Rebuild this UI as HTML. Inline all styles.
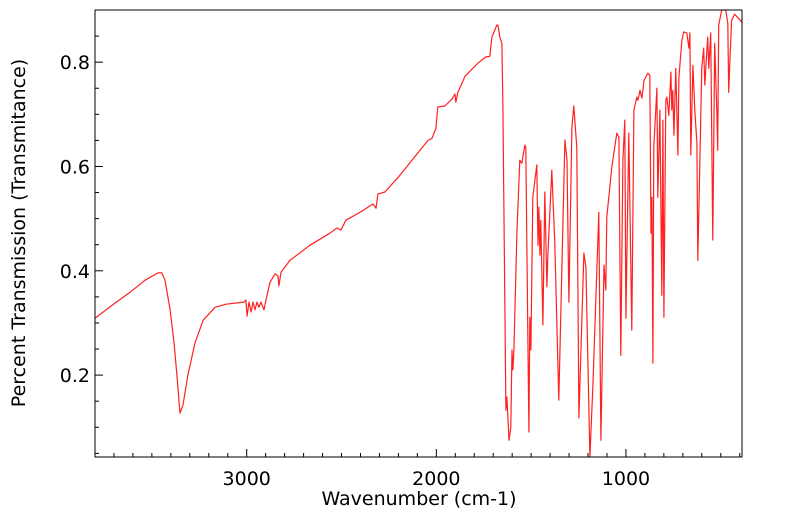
<!DOCTYPE html>
<html><head><meta charset="utf-8"><style>
body{margin:0;background:#fff;}
svg{display:block;font-family:"DejaVu Sans","Liberation Sans",sans-serif;}
</style></head><body>
<svg id="chart" width="799" height="516" viewBox="0 0 799 516"></svg>
<script>
const wavenumbers=[3800,3695,3615,3536,3468,3447,3431,3404,3383,3368,3352,3336,3310,3273,3230,3167,3109,3014,3004,2998,2988,2977,2967,2956,2946,2935,2925,2909,2898,2877,2851,2835,2830,2819,2772,2666,2561,2524,2503,2477,2403,2334,2318,2308,2271,2192,2086,2044,2023,2002,1992,1955,1918,1902,1897,1886,1849,1781,1739,1718,1707,1681,1675,1665,1654,1649,1633,1628,1617,1607,1601,1596,1591,1575,1560,1549,1533,1528,1512,1507,1501,1491,1470,1464,1459,1454,1449,1438,1428,1417,1412,1391,1375,1354,1338,1322,1311,1301,1285,1275,1259,1248,1222,1211,1190,1174,1143,1132,1116,1106,1101,1074,1048,1037,1027,1016,1006,1000,985,969,958,942,937,926,916,905,884,874,868,863,858,853,837,832,821,811,805,800,790,784,774,763,758,753,747,737,726,721,705,695,679,668,663,658,647,637,626,621,600,590,584,569,563,553,542,532,521,516,511,495,474,463,458,453,443,427,411,385];
const transmission=[0.309,0.338,0.359,0.382,0.396,0.396,0.382,0.325,0.261,0.2,0.127,0.143,0.2,0.261,0.305,0.33,0.336,0.34,0.344,0.313,0.34,0.321,0.34,0.325,0.34,0.33,0.34,0.325,0.344,0.378,0.394,0.39,0.371,0.397,0.42,0.449,0.472,0.482,0.478,0.497,0.512,0.528,0.52,0.547,0.551,0.583,0.631,0.65,0.654,0.673,0.714,0.716,0.729,0.739,0.723,0.742,0.773,0.798,0.81,0.811,0.848,0.871,0.871,0.848,0.836,0.714,0.133,0.158,0.075,0.1,0.248,0.21,0.248,0.472,0.612,0.606,0.641,0.637,0.091,0.311,0.248,0.541,0.603,0.449,0.522,0.43,0.497,0.296,0.551,0.369,0.426,0.593,0.453,0.152,0.407,0.651,0.612,0.34,0.675,0.716,0.637,0.118,0.434,0.407,0.043,0.185,0.512,0.075,0.411,0.363,0.503,0.6,0.664,0.656,0.238,0.612,0.689,0.309,0.664,0.286,0.708,0.733,0.727,0.746,0.731,0.765,0.779,0.775,0.472,0.541,0.223,0.637,0.75,0.541,0.708,0.353,0.689,0.311,0.727,0.733,0.698,0.781,0.708,0.746,0.66,0.788,0.622,0.771,0.842,0.858,0.856,0.827,0.856,0.622,0.794,0.708,0.645,0.42,0.79,0.827,0.756,0.848,0.788,0.856,0.459,0.836,0.708,0.631,0.871,0.9,0.9,0.875,0.742,0.794,0.88,0.892,0.886,0.875];
const xTickValues=[3000,2000,1000];
const xTickLabels=["3000","2000","1000"];
const yTickValues=[0.2,0.4,0.6,0.8];
const yTickLabels=["0.2","0.4","0.6","0.8"];

const NS="http://www.w3.org/2000/svg";
const svg=document.getElementById('chart');
const L=95,R=742,T=10,B=457;
const X0=3800,X1=388,Y0=0.043,Y1=0.9;
const sx=v=>L+(X0-v)/(X0-X1)*(R-L);
const sy=v=>B-(v-Y0)/(Y1-Y0)*(B-T);
function mk(tag,attrs,parent){const e=document.createElementNS(NS,tag);for(const k in attrs)e.setAttribute(k,attrs[k]);(parent||svg).appendChild(e);return e;}

const defs=mk('defs',{});
const cp=mk('clipPath',{id:'plotclip'},defs);
mk('rect',{x:L,y:T,width:R-L,height:B-T},cp);

const line=mk('polyline',{points:wavenumbers.map((w,i)=>sx(w).toFixed(1)+','+sy(transmission[i]).toFixed(1)).join(' '),fill:'none',stroke:'#ff2020','stroke-width':1.2,'stroke-linejoin':'round','clip-path':'url(#plotclip)'});



const frame=mk('rect',{x:L,y:T,width:R-L,height:B-T,fill:'none',stroke:'#000','stroke-width':1});



const xAxis=mk('g',{});


for(let w=3700;w>X1;w-=100){
  const major=xTickValues.includes(w);
  const x=sx(w);
  mk('line',{x1:x,x2:x,y1:B,y2:B-(major?8:4),stroke:'#000','stroke-width':1},xAxis);
}
xTickValues.forEach((v,i)=>{
  const t=mk('text',{x:sx(v),y:485,'text-anchor':'middle','font-size':19,fill:'#000'},xAxis);
  t.textContent=xTickLabels[i];
  
  
});
const yAxis=mk('g',{});


for(let k=1;k<=17;k++){
  const v=k*0.05; if(v<Y0||v>Y1)continue;
  const major=Math.abs(v/0.2-Math.round(v/0.2))<1e-6;
  const y=sy(v);
  mk('line',{x1:L,x2:L+(major?8:4),y1:y,y2:y,stroke:'#000','stroke-width':1},yAxis);
}
yTickValues.forEach((v,i)=>{
  const t=mk('text',{x:90,y:sy(v)+7,'text-anchor':'end','font-size':19,fill:'#000'},yAxis);
  t.textContent=yTickLabels[i];
  
  
});
const xt=mk('text',{x:419,y:505,'text-anchor':'middle','font-size':19,fill:'#000'});
xt.textContent='Wavenumber (cm-1)';


const yt=mk('text',{x:0,y:0,'text-anchor':'middle','font-size':19,fill:'#000',transform:'translate(25,233) rotate(-90)'});
yt.textContent='Percent Transmission (Transmitance)';


</script>
</body></html>
